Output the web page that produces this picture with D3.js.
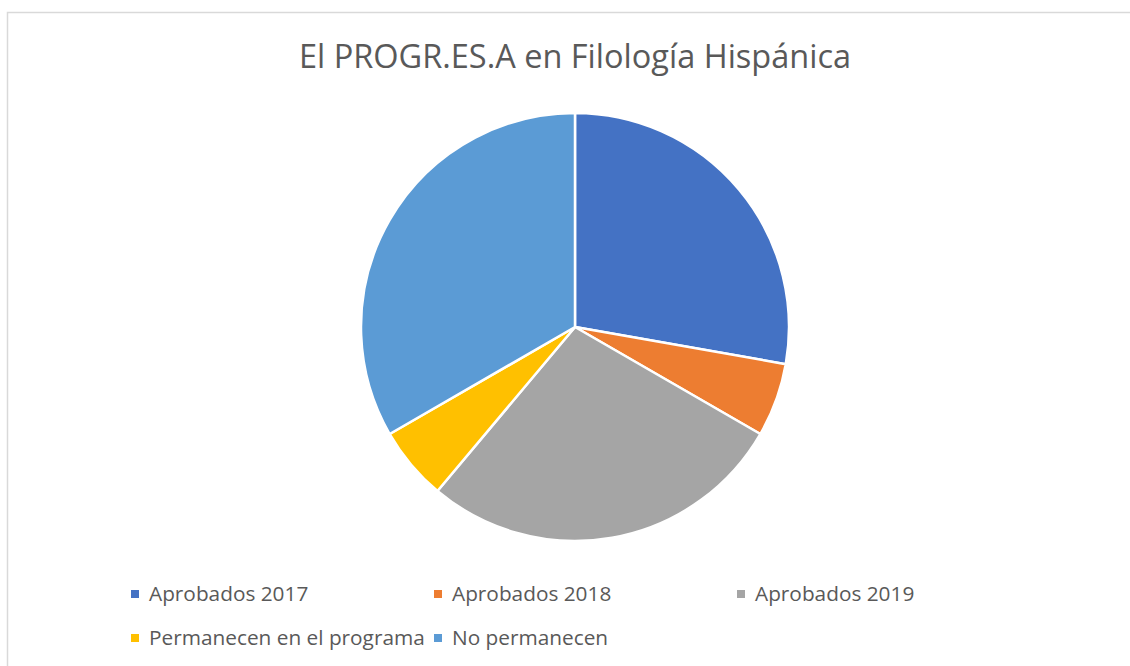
<!DOCTYPE html>
<html>
<head>
<meta charset="utf-8">
<script src="https://cdn.jsdelivr.net/npm/d3@7"></script>
<style>
  body { margin: 0; background: #fff; }
  text { font-family: "Open Sans", "Noto Sans", sans-serif; fill: #595959; }
</style>
</head>
<body>
<script>
// Data
const categories = ['Aprobados 2017', 'Aprobados 2018', 'Aprobados 2019', 'Permanecen en el programa', 'No permanecen'];
const values = [5, 1, 5, 1, 6];
const colors = ['#4472C4', '#ED7D31', '#A5A5A5', '#FFC000', '#5B9BD5'];
const title = 'El PROGR.ES.A en Filología Hispánica';

const width = 1130;
const height = 666;

const svg = d3.select('body')
  .append('svg')
  .attr('width', width)
  .attr('height', height);

// chart area border
svg.append('rect')
  .attr('x', 7.5)
  .attr('y', 12.5)
  .attr('width', width)
  .attr('height', height)
  .attr('fill', '#fff')
  .attr('stroke', '#d9d9d9')
  .attr('stroke-width', 1.5);

// title
svg.append('text')
  .attr('x', 575)
  .attr('y', 68)
  .attr('text-anchor', 'middle')
  .style('font-size', '32.5px')
  .text(title);

const data = categories.map((c, i) => ({ category: c, value: values[i] }));

const color = d3.scaleOrdinal()
  .domain(categories)
  .range(colors);

const pie = d3.pie()
  .value(d => d.value)
  .sort(null);

const radius = 214;
const arc = d3.arc()
  .innerRadius(0)
  .outerRadius(radius);

const g = svg.append('g')
  .attr('transform', 'translate(575, 327)');

g.selectAll('path')
  .data(pie(data))
  .enter()
  .append('path')
  .attr('d', arc)
  .attr('fill', d => color(d.data.category))
  .attr('stroke', '#fff')
  .attr('stroke-width', 2.5)
  .attr('stroke-linejoin', 'round');

// legend: 3 columns
const legend = svg.append('g');
const item = legend.selectAll('g')
  .data(data)
  .enter()
  .append('g')
  .attr('transform', (d, i) => `translate(${131 + (i % 3) * 303}, ${594 + Math.floor(i / 3) * 44})`);

item.append('rect')
  .attr('x', 0)
  .attr('y', -4)
  .attr('width', 8)
  .attr('height', 8)
  .attr('fill', d => color(d.category));

item.append('text')
  .attr('x', 18)
  .attr('y', 0)
  .attr('dy', '0.35em')
  .style('font-size', '20.8px')
  .text(d => d.category);
</script>
</body>
</html>
